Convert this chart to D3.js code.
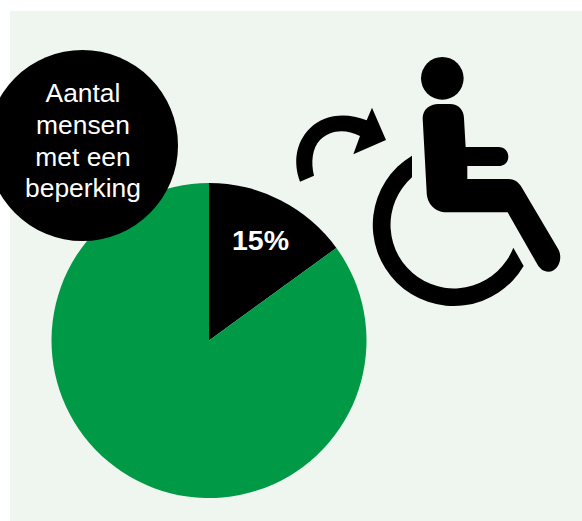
<!DOCTYPE html>
<html>
<head>
    <meta charset="utf-8">
    <title>Aantal mensen met een beperking</title>
    <style>
        html, body { margin: 0; padding: 0; background: #fff; overflow: hidden; }
        svg { display: block; }
        text { font-family: "Liberation Sans", Arial, sans-serif; }
    </style>
</head>
<body>
<script src="https://d3js.org/d3.v7.min.js"></script>
<script>
    // pie data
    const categories = ["Met een beperking", "Zonder beperking"];
    const values = [15, 85];
    const sliceColors = ["#000000", "#009a46"];
    const sliceLabels = ["15%", ""];
    const bubbleLines = ["Aantal", "mensen", "met een", "beperking"];

    const width = 582;
    const height = 521;

    const svg = d3.select("body")
        .append("svg")
        .attr("width", width)
        .attr("height", height);

    // panel
    svg.append("rect")
        .attr("x", 10)
        .attr("y", 11)
        .attr("width", width - 10)
        .attr("height", height - 11)
        .attr("fill", "#eff6ef");

    // pie
    const color = d3.scaleOrdinal().domain(categories).range(sliceColors);
    const pie = d3.pie().sort(null);
    const arc = d3.arc().innerRadius(0).outerRadius(157.5);

    const pieG = svg.append("g").attr("transform", "translate(209,340.5)");
    pieG.selectAll("path")
        .data(pie(values))
        .enter()
        .append("path")
        .attr("d", arc)
        .attr("fill", (d, i) => color(categories[i]));

    // label on the black slice
    svg.append("text")
        .attr("x", 260.5)
        .attr("y", 250)
        .attr("text-anchor", "middle")
        .attr("font-size", 28.5)
        .attr("font-weight", "bold")
        .attr("fill", "#fff")
        .text(sliceLabels[0]);

    // black bubble with title
    svg.append("circle")
        .attr("cx", 82.5)
        .attr("cy", 145.5)
        .attr("r", 95.5)
        .attr("fill", "#000");

    svg.selectAll("text.bubble")
        .data(bubbleLines)
        .enter()
        .append("text")
        .attr("class", "bubble")
        .attr("x", 83)
        .attr("y", (d, i) => 102 + i * 31.8)
        .attr("text-anchor", "middle")
        .attr("font-size", 26.4)
        .attr("fill", "#fff")
        .text(d => d);

    // wheelchair icon and arrow, traced at 3x
    const icon = svg.append("g").attr("transform", "translate(280,40) scale(0.3333)");
    icon.append("circle").attr("cx", 487).attr("cy", 115).attr("r", 64);
    icon.append("path")
        .attr("d", "M396,347 A243,243 0 1 0 731,678 L700,623 A190.5,190.5 0 1 1 396,412 Z");
    icon.append("path")
        .attr("d", "M428,235 C428,208 450,192 475,192 L510,192 C535,192 552,210 552,235 L557,321 L655,321 C675,321 685,335 685,350 C685,365 675,378 655,378 L562,378 L562,417 L685,417 C703,417 715,425 725,442 L835,628 C850,655 835,695 805,695 C790,695 780,687 772,673 L683,517 L500,517 C465,517 440,490 440,455 Z");
    icon.append("path")
        .attr("d", "M60,425 C40,370 45,310 90,265 C130,225 195,215 260,241 L276,203 L318,300 L220,343 L240,288 C195,265 150,270 120,300 C97,325 92,365 102,407 Z");
</script>
</body>
</html>
